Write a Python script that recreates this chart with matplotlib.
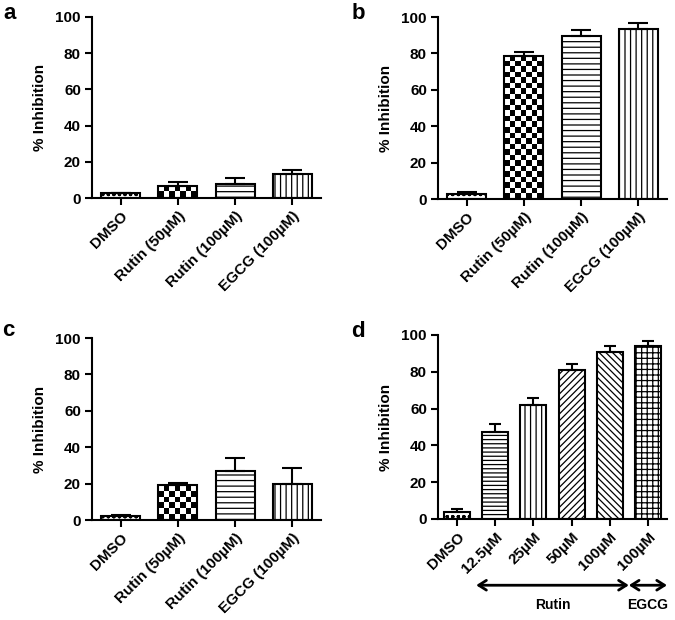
import numpy as np
import matplotlib
matplotlib.use('Agg')
import matplotlib.pyplot as plt

plt.rcParams['font.family'] = ['Liberation Sans', 'DejaVu Sans']
plt.rcParams['font.weight'] = 'bold'
plt.rcParams['hatch.linewidth'] = 0.9
plt.rcParams['hatch.color'] = 'black'

# --- data
labels_abc = ['DMSO', 'Rutin (50µM)', 'Rutin (100µM)', 'EGCG (100µM)']
a_vals = [2.5, 6.9, 7.8, 13.3]
a_err = [0.5, 2.1, 3.2, 1.9]
b_vals = [3.0, 78.7, 89.6, 93.3]
b_err = [0.6, 1.8, 3.5, 3.6]
c_vals = [2.4, 19.2, 27.1, 19.8]
c_err = [0.6, 0.9, 6.8, 9.0]

labels_d = ['DMSO', '12.5µM', '25µM', '50µM', '100µM', '100µM']
d_vals = [3.7, 47.1, 61.8, 81.2, 90.6, 93.8]
d_err = [1.8, 4.7, 4.2, 3.2, 3.2, 2.7]

hatch_abc = ['ooo', 'checker', '---', '|||']
hatch_d = ['ooo', '----', '|||', '/////', '\\\\\\\\\\', '+++']

W, H = 675, 620
fig = plt.figure(figsize=(W / 100, H / 100), dpi=100)


def add_ax(l, r, t, b):
    return fig.add_axes([l / W, 1 - b / H, (r - l) / W, (b - t) / H])


def checker(ax, bar, cell=5.5):
    # checkerboard fill clipped to the bar
    bb = ax.get_window_extent()
    x0, x1 = ax.get_xlim()
    px_x = bb.width / (x1 - x0)
    px_y = bb.height / 100.0
    w, h = bar.get_width(), bar.get_height()
    nc = max(1, int(round(w * px_x / cell)))
    nr = max(1, int(round(h * px_y / cell)))
    img = np.indices((nr, nc)).sum(0) % 2
    im = ax.imshow(img, cmap='gray_r', vmin=0, vmax=1, interpolation='nearest',
                   extent=(bar.get_x(), bar.get_x() + w, 0, h), aspect='auto', zorder=1.5)
    im.set_clip_path(bar)


def panel(ax, labels, vals, errs, hatches, width, capsize):
    x = np.arange(len(vals))
    ax.set_xlim(-0.5, len(vals) - 0.5)
    ax.set_ylim(0, 100)
    bars = ax.bar(x, vals, width=width, color='white', edgecolor='black', linewidth=1.5, zorder=2)
    for bar, hz in zip(bars, hatches):
        if hz == 'checker':
            bar.set_facecolor('none')
            checker(ax, bar)
        else:
            bar.set_hatch(hz)
    ax.errorbar(x, vals, yerr=[np.zeros(len(errs)), errs], fmt='none', ecolor='black',
                elinewidth=1.5, capsize=capsize, capthick=1.5, zorder=3)
    ax.set_xlim(-0.5, len(vals) - 0.5)
    ax.set_ylim(0, 100)
    ax.set_yticks([0, 20, 40, 60, 80, 100])
    ax.set_xticks(x)
    ax.set_xticklabels(labels, rotation=45, ha='right', rotation_mode='anchor')
    ax.tick_params(axis='both', width=1.5, length=5, labelsize=11, pad=3)
    for s in ['top', 'right']:
        ax.spines[s].set_visible(False)
    for s in ['left', 'bottom']:
        ax.spines[s].set_linewidth(1.5)
    ax.set_ylabel('% Inhibition', fontsize=11, fontweight='bold', labelpad=6)


ax_a = add_ax(92, 321, 17, 198)
ax_b = add_ax(438, 667, 17, 199)
ax_c = add_ax(92, 321, 338, 520)
ax_d = add_ax(438, 667, 335, 519)

panel(ax_a, labels_abc, a_vals, a_err, hatch_abc, 0.68, 7)
panel(ax_b, labels_abc, b_vals, b_err, hatch_abc, 0.68, 7)
panel(ax_c, labels_abc, c_vals, c_err, hatch_abc, 0.68, 7)
panel(ax_d, labels_d, d_vals, d_err, hatch_d, 0.68, 4)

# panel letters
for letter, px, py in [('a', 3, 19), ('b', 352, 19), ('c', 2, 336), ('d', 351, 337)]:
    fig.text(px / W, 1 - py / H, letter, fontsize=16, fontweight='bold', va='baseline', ha='left')

# arrows grouping the Rutin and EGCG bars in panel d
tr = ax_d.get_xaxis_transform()
arrow = dict(arrowstyle='<->,head_length=0.55,head_width=0.35', lw=2, color='black',
             shrinkA=0, shrinkB=0)
ax_d.annotate('', xy=(0.5, -0.36), xytext=(4.5, -0.36), xycoords=tr, textcoords=tr,
              arrowprops=arrow, annotation_clip=False)
ax_d.annotate('', xy=(4.5, -0.36), xytext=(5.5, -0.36), xycoords=tr, textcoords=tr,
              arrowprops=arrow, annotation_clip=False)
ax_d.text(2.5, -0.43, 'Rutin', transform=tr, ha='center', va='top', fontsize=10, fontweight='bold')
ax_d.text(5.0, -0.43, 'EGCG', transform=tr, ha='center', va='top', fontsize=10, fontweight='bold')

fig.savefig('out.png', dpi=100)
